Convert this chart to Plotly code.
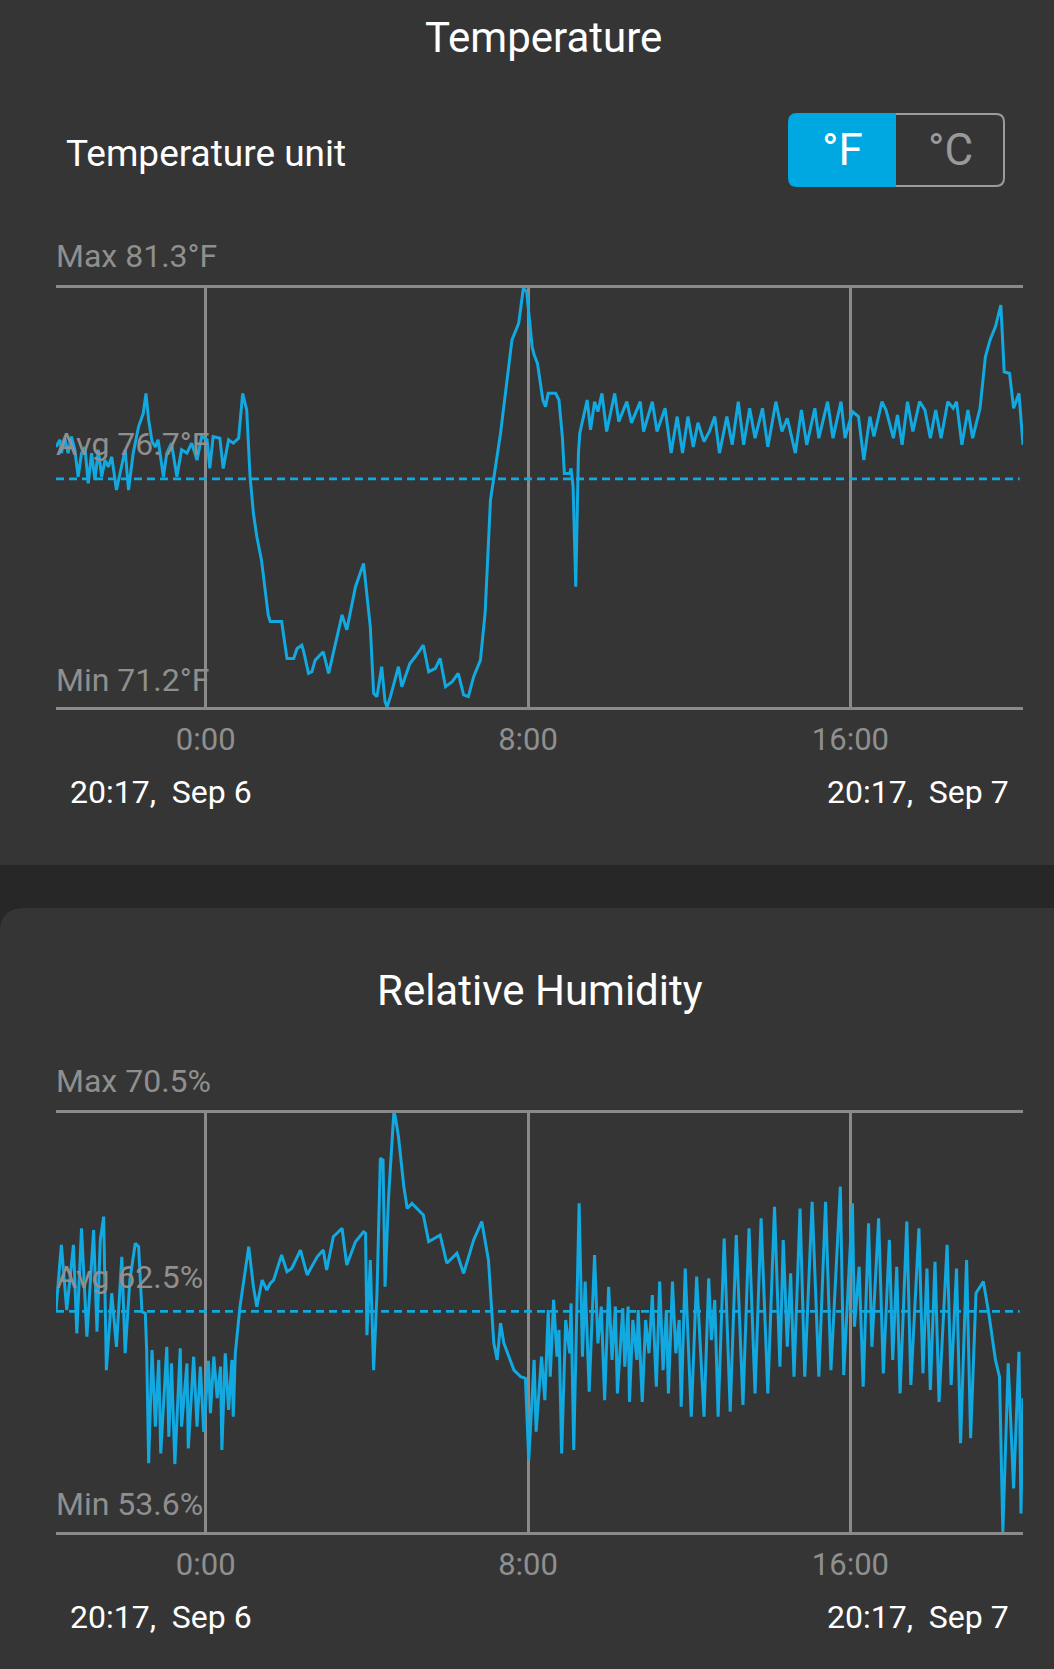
import pandas as pd
import plotly.graph_objects as go

# ---------------- data ----------------
START = pd.Timestamp("2023-09-06 20:17")
END = START + pd.Timedelta(minutes=1440)

tick_times = ["2023-09-07 00:00", "2023-09-07 08:00", "2023-09-07 16:00"]
tick_labels = ["0:00", "8:00", "16:00"]
start_label = "20:17,\u00a0\u00a0Sep 6"
end_label = "20:17,\u00a0\u00a0Sep 7"

temp_max, temp_avg, temp_min = 81.3, 76.7, 71.2
hum_max, hum_avg, hum_min = 70.5, 62.5, 53.6

# minutes after 20:17 Sep 6
temp_minutes = [
    0, 6, 8, 13, 18, 23, 28, 33, 38, 43, 48, 53, 58, 63, 68, 73, 78, 83, 90, 95,
    103, 108, 115, 123, 130, 134, 138, 143, 148, 152, 160, 165, 172, 180, 187, 195,
    202, 210, 217, 225, 229, 234, 244, 249, 257, 264, 272, 278, 284, 289, 294,
    299, 306, 316, 319, 336, 344, 354, 359, 366, 369, 376, 381, 386, 398, 406, 413,
    426, 433, 446, 458, 468, 473, 478, 485, 490, 493, 498, 510, 515, 527, 535, 547,
    555, 565, 572, 580, 590, 599, 607, 614, 622, 632, 639, 647,
    662, 679, 689, 696, 701, 709,
    712, 717, 725, 729, 733, 744, 749, 754, 757, 765, 767, 770, 774, 778, 780, 791,
    796, 802, 807, 813, 820, 832, 838, 850, 857, 870, 875, 888, 895, 907, 916, 925,
    933, 941, 949, 956, 965, 973, 981, 988, 999, 1007, 1016, 1024, 1033, 1041, 1052,
    1060, 1072, 1081, 1089, 1101, 1110, 1118, 1130, 1136, 1149, 1157, 1169, 1175,
    1186, 1195, 1203, 1212, 1218, 1230, 1236, 1247, 1253, 1260, 1268, 1276, 1286,
    1294, 1302, 1310, 1318, 1328, 1336, 1341, 1349, 1358, 1365, 1376, 1384, 1391,
    1399, 1407, 1412, 1420, 1426, 1434, 1440,
]
temp_values = [
    77.47, 77.64, 77.32, 77.68, 77.32, 77.72, 77.40, 76.75, 77.32, 77.47, 76.59, 77.32,
    76.67, 77.40, 76.75, 77.15, 76.99, 77.23, 76.43, 76.83, 77.40, 76.43, 77.32, 77.96,
    78.28, 78.76, 78.12, 77.60, 77.47, 77.64, 76.75, 77.32, 77.56, 76.75, 77.40, 77.32,
    77.56, 77.15, 77.72, 77.64, 76.95, 77.72, 77.68, 76.95, 77.64, 77.56, 77.68, 78.76,
    78.36, 76.75, 75.87,
    75.31, 74.74, 73.42, 73.26, 73.26, 72.37, 72.37, 72.61, 72.69, 72.53, 72.01, 72.05,
    72.33, 72.53, 72.01, 72.49, 73.42, 73.06, 74.10, 74.66, 73.14, 71.53, 71.45, 72.17,
    71.33, 71.20, 71.45, 72.17, 71.69, 72.25, 72.41, 72.69, 72.05, 72.13, 72.37, 71.69,
    71.81, 72.01, 71.49, 71.45, 71.93, 72.33, 73.46, 76.19,
    77.80, 80.05, 80.45, 81.30, 81.20, 79.89,
    79.69, 79.48, 78.60, 78.44, 78.76, 78.76, 78.60, 77.72, 76.83, 76.83, 76.95, 76.51,
    74.10, 77.32, 77.80, 78.60, 77.88, 78.56, 78.32, 78.76, 77.84, 78.76, 78.08, 78.56,
    78.05, 78.56, 77.84, 78.56, 77.84, 78.40, 77.32, 78.20, 77.32, 78.20, 77.47, 78.05,
    77.60, 77.84, 78.20, 77.32, 78.20, 77.52, 78.56, 77.52, 78.40, 77.68, 78.40, 77.47,
    78.56, 77.84, 78.16, 77.32, 78.36, 77.52, 78.40, 77.68, 78.56, 77.68, 78.56, 77.68,
    78.32, 78.20, 77.15, 78.20, 77.72, 78.56, 78.36, 77.68, 78.24, 77.52, 78.56, 77.84,
    78.56, 78.36, 77.68, 78.36, 77.68, 78.56, 78.40, 78.56, 77.52, 78.36, 77.68, 78.40,
    79.64, 80.05, 80.37, 80.89, 79.28, 79.24, 78.40, 78.76, 77.52,
]

hum_minutes = [
    0, 8, 16, 26, 31, 38, 46, 56, 61, 66, 71, 75, 83, 90, 98, 103, 110, 118, 123, 128,
    133, 135, 138, 143, 148, 153, 156, 165, 168, 172, 177, 185, 187, 195, 197, 205,
    210, 215, 220, 227, 230, 235, 240, 245, 247, 252, 257, 262, 264, 267,
    274, 280, 287, 294, 299, 307, 314, 319, 324, 336, 344, 351, 364, 374, 389, 398,
    403, 413, 426, 433, 446, 458, 461, 463, 468, 473, 478, 483, 487, 490, 495, 503,
    505, 510, 518, 523, 530, 547, 555, 572, 582, 597, 607, 622, 634, 644, 649, 652,
    657, 662, 667, 682, 692, 699, 704,
    712, 715, 723, 728, 733, 736, 741, 746, 749, 753, 759, 765, 767, 771, 779, 784,
    788, 794, 802, 807, 812, 817, 823, 828, 833, 836, 844, 847, 852, 854, 859, 865,
    867, 873, 878, 883, 888, 894, 899, 904, 909, 912, 918, 923, 928, 931, 937, 946,
    954, 965, 972, 976, 981, 986, 995, 1004, 1013, 1023, 1032, 1041, 1050, 1060, 1070,
    1078, 1083, 1089, 1094, 1099, 1108, 1115, 1126, 1136, 1146, 1154, 1168, 1173,
    1186, 1189, 1196, 1202, 1210, 1215, 1225, 1232, 1241, 1246, 1252, 1257, 1267,
    1273, 1285, 1291, 1297, 1302, 1309, 1315, 1327, 1333, 1341, 1347, 1356, 1362,
    1370, 1381, 1389, 1399, 1405, 1410, 1418, 1426, 1434, 1437, 1440,
]
hum_values = [
    62.55, 65.18, 62.55, 65.18, 61.61, 65.85, 61.48, 65.78, 61.68, 65.38, 66.32, 60.13,
    63.23, 61.07, 64.70, 60.81, 63.76, 65.24, 65.11, 62.49, 62.42, 60.94, 56.37, 60.94,
    57.85, 60.54, 56.77, 61.07, 57.44, 60.40, 56.34, 61.01, 57.85, 60.40, 56.97, 60.67,
    57.85, 60.27, 57.64, 60.50, 58.39, 60.67, 59.00, 60.27, 56.91, 60.81, 58.52, 60.54,
    58.25, 60.81,
    62.69, 63.90, 65.11, 63.49, 62.69, 63.76, 63.36, 63.63, 63.76, 64.77, 64.10, 64.23,
    64.97, 63.97, 64.70, 64.97, 64.17, 65.51, 65.85, 64.37, 65.31, 65.71, 65.65, 61.54,
    64.57, 60.13, 63.23, 68.67, 68.60, 63.49, 66.99, 70.50, 70.40, 69.54, 67.53, 66.65,
    66.85, 66.39, 65.31, 65.58, 64.44, 64.84, 64.03, 65.38, 66.12, 64.57, 62.15, 61.21,
    60.54, 62.02, 61.21, 60.13, 59.86, 59.80, 56.50,
    60.54, 57.65, 60.67, 58.92, 62.55, 59.86, 62.96, 60.67, 61.75, 56.77, 62.15, 60.81,
    62.82, 56.91, 66.86, 60.67, 63.70, 59.26, 64.77, 61.21, 62.69, 58.92, 63.49, 60.54,
    62.69, 59.19, 62.62, 60.27, 62.69, 58.85, 62.15, 60.54, 62.55, 58.85, 62.15, 60.81,
    63.16, 59.46, 63.70, 60.13, 62.55, 59.19, 63.70, 60.81, 62.15, 58.65, 64.23, 58.25,
    63.90, 58.25, 63.83, 61.34, 62.96, 58.25, 65.44, 58.45, 65.58, 58.72, 65.85, 59.19,
    66.25, 59.19, 66.72, 60.27, 65.38, 61.07, 64.03, 59.86, 66.65, 59.86, 66.92, 59.86,
    66.92, 60.13, 67.53, 59.93, 66.86, 61.88, 64.30, 59.46, 66.05, 61.07, 66.25, 60.00,
    65.38, 60.54, 64.30, 59.19, 66.12, 59.53, 65.85, 60.00, 64.23, 59.33, 64.50, 58.85,
    65.18, 59.53, 64.23, 57.18, 64.57, 57.38, 63.23, 63.70, 62.42, 60.54, 59.86, 53.60,
    60.40, 55.36, 60.87, 54.35, 58.99,
]

# ---------------- styling ----------------
W, H = 1054, 1669
BG = "#353535"
BAND = "#272727"
BLUE = "#12a8e0"
GRID = "#8a8a8a"
LABEL_GRAY = "#8f8f8f"
FONT = "Roboto, sans-serif"


def fx(px):
    return px / W


def fy(px):
    return 1 - px / H


temp_times = [START + pd.Timedelta(minutes=m) for m in temp_minutes]
hum_times = [START + pd.Timedelta(minutes=m) for m in hum_minutes]

fig = go.Figure()
fig.add_trace(go.Scatter(x=temp_times, y=temp_values, mode="lines",
                         line=dict(color=BLUE, width=3), xaxis="x", yaxis="y",
                         hoverinfo="skip", showlegend=False))
fig.add_trace(go.Scatter(x=hum_times, y=hum_values, mode="lines",
                         line=dict(color=BLUE, width=3), xaxis="x2", yaxis="y2",
                         hoverinfo="skip", showlegend=False))

xdom = [fx(56), fx(1023)]
xaxis_common = dict(
    type="date", range=[START, END], domain=xdom,
    showgrid=True, gridcolor=GRID, gridwidth=2.5,
    tickmode="array", tickvals=tick_times, ticktext=tick_labels,
    tickfont=dict(size=31, color=LABEL_GRAY, family=FONT),
    ticks="", showline=True, mirror=True, linecolor=GRID, linewidth=3,
    zeroline=False, fixedrange=True, ticklabelstandoff=3,
)
yaxis_common = dict(showgrid=False, showticklabels=False, zeroline=False,
                    showline=False, ticks="", fixedrange=True)

fig.update_layout(
    width=W, height=H, autosize=False,
    margin=dict(l=0, r=0, t=0, b=0, pad=0),
    paper_bgcolor=BG, plot_bgcolor="rgba(0,0,0,0)",
    template="none", showlegend=False,
    font=dict(family=FONT),
    xaxis=dict(**xaxis_common, anchor="y"),
    yaxis=dict(**yaxis_common, range=[temp_min, temp_max],
               domain=[fy(707), fy(288)], anchor="x"),
    xaxis2=dict(**xaxis_common, anchor="y2"),
    yaxis2=dict(**yaxis_common, range=[hum_min, hum_max],
                domain=[fy(1532), fy(1113)], anchor="x2"),
)

shapes = []
# separator band and rounded corner of the second card
shapes.append(dict(type="rect", xref="paper", yref="paper", x0=0, x1=1,
                   y0=fy(908), y1=fy(865), fillcolor=BAND, line=dict(width=0),
                   layer="below"))
r = 24
shapes.append(dict(type="path", xref="paper", yref="paper",
                   path=f"M 0,{fy(908)} L {fx(r)},{fy(908)} Q 0,{fy(908)} 0,{fy(908 + r)} Z",
                   fillcolor=BAND, line=dict(width=0), layer="below"))
# toggle button
bx0, bxm, bx1, by0, by1, br = 788, 896, 1005, 113, 187, 9
shapes.append(dict(type="path", xref="paper", yref="paper",
                   path=(f"M {fx(bxm)},{fy(by0)} L {fx(bx0 + br)},{fy(by0)} "
                         f"Q {fx(bx0)},{fy(by0)} {fx(bx0)},{fy(by0 + br)} "
                         f"L {fx(bx0)},{fy(by1 - br)} Q {fx(bx0)},{fy(by1)} {fx(bx0 + br)},{fy(by1)} "
                         f"L {fx(bxm)},{fy(by1)} Z"),
                   fillcolor="#00a8e1", line=dict(width=0)))
shapes.append(dict(type="path", xref="paper", yref="paper",
                   path=(f"M {fx(bxm)},{fy(by0 + 1)} L {fx(bx1 - br)},{fy(by0 + 1)} "
                         f"Q {fx(bx1 - 1)},{fy(by0 + 1)} {fx(bx1 - 1)},{fy(by0 + br)} "
                         f"L {fx(bx1 - 1)},{fy(by1 - br)} Q {fx(bx1 - 1)},{fy(by1 - 1)} {fx(bx1 - br)},{fy(by1 - 1)} "
                         f"L {fx(bxm)},{fy(by1 - 1)}"),
                   line=dict(color="#9c9c9c", width=2)))
# average dashed lines
for xa, ya, avg in (("x", "y", temp_avg), ("x2", "y2", hum_avg)):
    shapes.append(dict(type="line", xref=xa, yref=ya, x0=START,
                       x1=START + pd.Timedelta(minutes=1435), y0=avg, y1=avg,
                       line=dict(color=BLUE, width=2.6, dash="8px,5px")))
fig.update_layout(shapes=shapes)


def ann(text, x, y, size, color, xanchor="left", **kw):
    return dict(text=text, x=x, y=y, xref="paper", yref="paper", showarrow=False,
                xanchor=xanchor, yanchor="middle",
                font=dict(size=size, color=color, family=FONT), **kw)


annotations = [
    ann("Temperature", fx(543), fy(38), 42, "#ffffff", "center"),
    ann("Temperature unit", fx(64), fy(153), 37, "#ffffff"),
    ann("°F", fx(842), fy(150), 44, "#ffffff", "center"),
    ann("°C", fx(950), fy(150), 44, "#9a9a9a", "center"),
    ann(f"Max {temp_max}°F", fx(54), fy(256), 32, LABEL_GRAY),
    ann(f"Min {temp_min}°F", fx(54), fy(680), 32, LABEL_GRAY),
    ann(start_label, fx(68), fy(792), 32, "#ffffff"),
    ann(end_label, fx(1011), fy(792), 32, "#ffffff", "right"),
    ann("Relative Humidity", fx(540), fy(990), 42, "#ffffff", "center"),
    ann(f"Max {hum_max}%", fx(54), fy(1081), 32, LABEL_GRAY),
    ann(f"Min {hum_min}%", fx(54), fy(1504), 32, LABEL_GRAY),
    ann(start_label, fx(68), fy(1617), 32, "#ffffff"),
    ann(end_label, fx(1011), fy(1617), 32, "#ffffff", "right"),
    dict(text=f"Avg {temp_avg}°F", x=START, y=temp_avg, xref="x", yref="y",
         showarrow=False, xanchor="left", yanchor="middle", yshift=35, xshift=-2,
         font=dict(size=32, color=LABEL_GRAY, family=FONT)),
    dict(text=f"Avg {hum_avg}%", x=START, y=hum_avg, xref="x2", yref="y2",
         showarrow=False, xanchor="left", yanchor="middle", yshift=34, xshift=-2,
         font=dict(size=32, color=LABEL_GRAY, family=FONT)),
]
fig.update_layout(annotations=annotations)

fig.write_html("out.html", config={"displayModeBar": False})
